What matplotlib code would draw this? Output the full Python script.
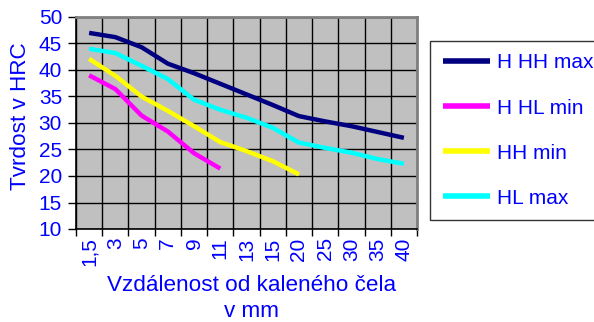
import matplotlib
matplotlib.use("Agg")
import matplotlib.pyplot as plt
import numpy as np

categories = ["1,5", "3", "5", "7", "9", "11", "13", "15", "20", "25", "30", "35", "40"]
h_hh_max = [47.0, 46.2, 44.3, 41.2, 39.4, 37.4, 35.4, 33.4, 31.3, 30.3, 29.4, 28.3, 27.2]
h_hl_min = [39.0, 36.4, 31.4, 28.4, 24.3, 21.4]
hh_min = [42.1, 38.9, 35.0, 32.3, 29.4, 26.4, 24.7, 22.8, 20.3]
hl_max = [44.0, 43.2, 40.8, 38.3, 34.4, 32.5, 31.0, 29.1, 26.3, 25.3, 24.4, 23.2, 22.3]

series = [
    ("H HH max", h_hh_max, "#000080"),
    ("H HL min", h_hl_min, "#FF00FF"),
    ("HH min", hh_min, "#FFFF00"),
    ("HL max", hl_max, "#00FFFF"),
]

plt.rcParams['font.family'] = ['Liberation Sans', 'DejaVu Sans']
blue = "#0000FF"
fs = 15
fs_title = 16.2

fig = plt.figure(figsize=(5.94, 3.22), dpi=100)
W, H = 594, 322
L, R, T, B = 76, 417, 17, 229
ax = fig.add_axes([L / W, 1 - B / H, (R - L) / W, (B - T) / H])
ax.set_facecolor("#C0C0C0")

n = len(categories)
handles = []
for name, vals, col in series:
    x = np.arange(len(vals))
    h, = ax.plot(x, vals, color=col, lw=3.2, solid_joinstyle='round', solid_capstyle='butt', label=name, zorder=3)
    handles.append(h)

ax.set_xlim(-0.5, n - 0.5)
ax.set_ylim(10, 50)
ax.set_yticks(np.arange(10, 51, 5))
ax.set_xticks(np.arange(-0.5, n, 1.0))
ax.set_xticklabels([])
ax.set_xticks(np.arange(n), minor=True)
ax.set_xticklabels(categories, minor=True, rotation=90, color=blue, fontsize=fs)
ax.tick_params(axis='x', which='major', length=5, width=1, color='black', direction='out')
ax.tick_params(axis='x', which='minor', length=0, pad=6)
ax.tick_params(axis='y', length=6, width=1, color='black', direction='out', labelcolor=blue, labelsize=fs, pad=4)
ax.grid(True, which='major', color='black', lw=1.0, zorder=1)
ax.set_axisbelow(True)
for s in ['top', 'right']:
    ax.spines[s].set_color('#808080')
    ax.spines[s].set_linewidth(2)
for s in ['left', 'bottom']:
    ax.spines[s].set_color('black')
    ax.spines[s].set_linewidth(1.2)

fig.text(21 / W, 1 - 116 / H, "Tvrdost v HRC", rotation=90, ha='center', va='center', color=blue, fontsize=fs_title)
fig.text(252 / W, 1 - 275 / H, "Vzdálenost od kaleného čela\nv mm", ha='center', va='top',
         color=blue, fontsize=fs_title, linespacing=1.32, multialignment='center')

leg = fig.legend(handles=handles, loc='upper left', bbox_to_anchor=(430 / W, 1 - 41 / H),
                 frameon=True, fancybox=False, edgecolor='black', fontsize=fs,
                 handlelength=2.3, handletextpad=0.3, labelspacing=1.25, borderpad=0.6,
                 borderaxespad=0)
for t in leg.get_texts():
    t.set_color(blue)
leg.get_frame().set_linewidth(1.0)
for lh in leg.legend_handles:
    lh.set_linewidth(4)

fig.savefig("out.png", dpi=100)
